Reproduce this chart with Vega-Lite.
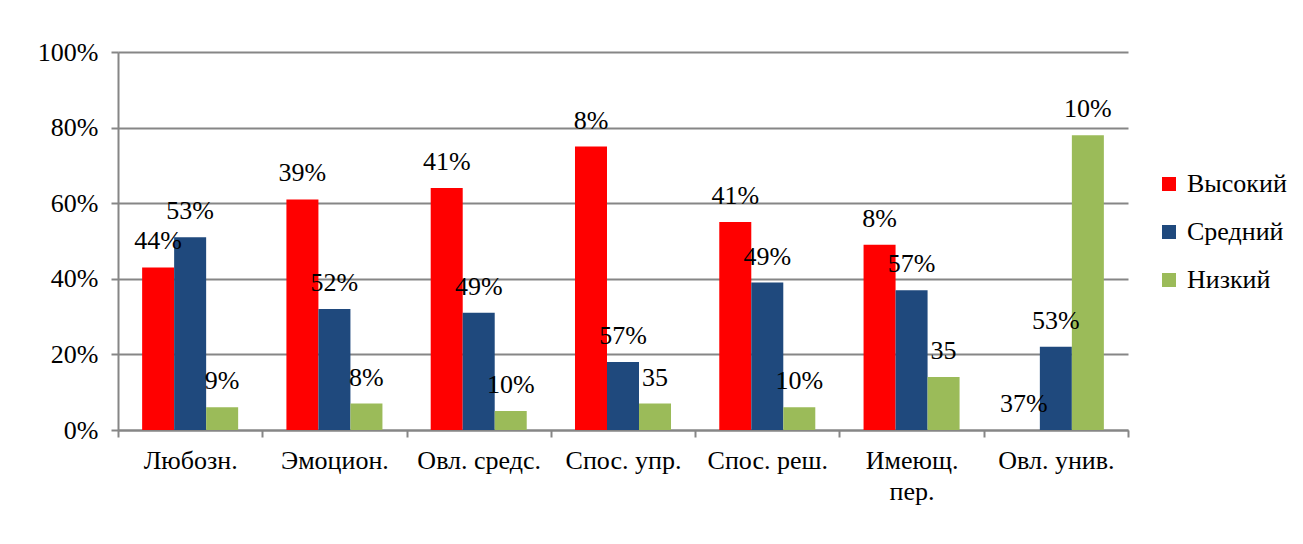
{
  "$schema": "https://vega.github.io/schema/vega-lite/v6.json",
  "autosize": "none",
  "width": 1010,
  "height": 378,
  "padding": {"left": 118, "top": 52, "right": 175, "bottom": 114},
  "background": "white",
  "config": {
    "font": "Liberation Serif",
    "view": {"stroke": null},
    "axis": {"labelFont": "Liberation Serif", "labelColor": "black", "labelFontSize": 26}
  },
  "data": {
    "values": [
      {"cat": "Любозн.", "s": "Высокий", "v": 43, "lab": "44%"},
      {"cat": "Любозн.", "s": "Средний", "v": 51, "lab": "53%"},
      {"cat": "Любозн.", "s": "Низкий", "v": 6, "lab": "9%"},
      {"cat": "Эмоцион.", "s": "Высокий", "v": 61, "lab": "39%"},
      {"cat": "Эмоцион.", "s": "Средний", "v": 32, "lab": "52%"},
      {"cat": "Эмоцион.", "s": "Низкий", "v": 7, "lab": "8%"},
      {"cat": "Овл. средс.", "s": "Высокий", "v": 64, "lab": "41%"},
      {"cat": "Овл. средс.", "s": "Средний", "v": 31, "lab": "49%"},
      {"cat": "Овл. средс.", "s": "Низкий", "v": 5, "lab": "10%"},
      {"cat": "Спос. упр.", "s": "Высокий", "v": 75, "lab": "8%"},
      {"cat": "Спос. упр.", "s": "Средний", "v": 18, "lab": "57%"},
      {"cat": "Спос. упр.", "s": "Низкий", "v": 7, "lab": "35"},
      {"cat": "Спос. реш.", "s": "Высокий", "v": 55, "lab": "41%"},
      {"cat": "Спос. реш.", "s": "Средний", "v": 39, "lab": "49%"},
      {"cat": "Спос. реш.", "s": "Низкий", "v": 6, "lab": "10%"},
      {"cat": "Имеющ. пер.", "s": "Высокий", "v": 49, "lab": "8%"},
      {"cat": "Имеющ. пер.", "s": "Средний", "v": 37, "lab": "57%"},
      {"cat": "Имеющ. пер.", "s": "Низкий", "v": 14, "lab": "35"},
      {"cat": "Овл. унив.", "s": "Высокий", "v": 0, "lab": "37%"},
      {"cat": "Овл. унив.", "s": "Средний", "v": 22, "lab": "53%"},
      {"cat": "Овл. унив.", "s": "Низкий", "v": 78, "lab": "10%"}
    ]
  },
  "encoding": {
    "x": {
      "field": "cat", "type": "nominal", "sort": null,
      "scale": {"paddingInner": 0, "paddingOuter": 0},
      "axis": {
        "title": null, "labelAngle": 0, "tickBand": "extent",
        "domainColor": "#868686", "domainWidth": 2, "tickColor": "#868686", "tickWidth": 2, "tickSize": 7,
        "labelPadding": 10,
        "labelExpr": "datum.value == 'Имеющ. пер.' ? ['Имеющ.', 'пер.'] : datum.value",
        "labelLineHeight": 31
      }
    },
    "xOffset": {
      "field": "s", "type": "nominal", "sort": ["Высокий", "Средний", "Низкий"],
      "scale": {"paddingInner": 0, "paddingOuter": 0.754}
    },
    "y": {
      "field": "v", "type": "quantitative",
      "scale": {"domain": [0, 100]},
      "axis": {
        "title": null, "values": [0, 20, 40, 60, 80, 100],
        "labelExpr": "datum.value + '%'",
        "grid": true, "gridColor": "#868686", "gridWidth": 2,
        "domainColor": "#868686", "domainWidth": 2, "tickColor": "#868686", "tickWidth": 2, "tickSize": 7,
        "labelPadding": 13
      }
    }
  },
  "layer": [
    {
      "mark": {"type": "bar"},
      "encoding": {
        "color": {
          "field": "s", "type": "nominal", "sort": ["Высокий", "Средний", "Низкий"],
          "scale": {"domain": ["Высокий", "Средний", "Низкий"], "range": ["#FF0000", "#1F497D", "#9BBB59"]},
          "legend": {
            "title": null, "orient": "none", "legendX": 1038, "legendY": 119,
            "symbolType": "square", "symbolSize": 196, "symbolStrokeWidth": 0, "symbolOpacity": 1,
            "labelFont": "Liberation Serif", "labelFontSize": 26, "labelColor": "black",
            "labelOffset": 5, "rowPadding": 22
          }
        }
      }
    },
    {
      "mark": {"type": "text", "font": "Liberation Serif", "fontSize": 26, "baseline": "middle", "dy": -26, "color": "black"},
      "encoding": {"text": {"field": "lab"}}
    }
  ]
}
